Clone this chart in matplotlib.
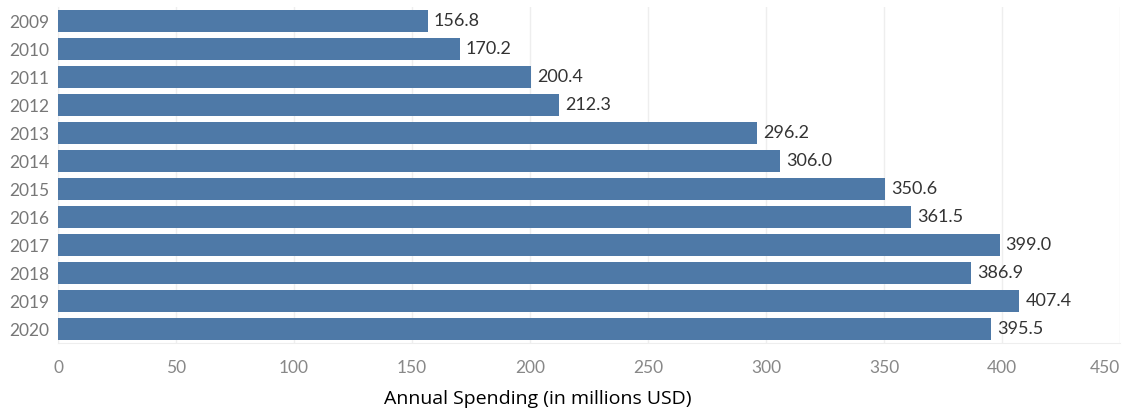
import matplotlib
matplotlib.use("Agg")
import matplotlib.pyplot as plt

years = ["2009", "2010", "2011", "2012", "2013", "2014", "2015", "2016", "2017", "2018", "2019", "2020"]
spending = [156.8, 170.2, 200.4, 212.3, 296.2, 306.0, 350.6, 361.5, 399.0, 386.9, 407.4, 395.5]
xticks = [0, 50, 100, 150, 200, 250, 300, 350, 400, 450]

plt.rcParams['font.family'] = ['Lato', 'DejaVu Sans']

fig = plt.figure(figsize=(11.27, 4.15), dpi=100)
ax = fig.add_axes([58/1127, 1 - 343/415, (1120 - 58)/1127, (343 - 7)/415])

ypos = list(range(len(years)))
ax.barh(ypos, spending, height=0.78, color="#4e79a7", zorder=3)
ax.set_ylim(len(years) - 0.5, -0.5)
ax.set_xlim(0, 450)
ax.set_yticks(ypos)
ax.set_yticklabels(years, fontsize=12.5, color="#777777")
ax.set_xticks(xticks)
ax.set_xticklabels([str(t) for t in xticks], fontsize=12.5, color="#888888")
ax.tick_params(axis='both', length=0)
ax.tick_params(axis='x', pad=12)
ax.tick_params(axis='y', pad=6)
labs = ax.get_xticklabels()
labs[-1].set_horizontalalignment('right')
labs[-1].set_x(450)

for y, v in zip(ypos, spending):
    ax.text(v + 2.5, y, f"{v:.1f}", va='center', ha='left', fontsize=13, color="#333333")

ax.grid(axis='x', color="#eeeeee", linewidth=1, zorder=0)
for s in ['top', 'right']:
    ax.spines[s].set_visible(False)
ax.spines['left'].set_color("#eeeeee")
ax.spines['bottom'].set_color("#eeeeee")

fig.text(538/1127, 1 - 399/415, "Annual Spending (in millions USD)", ha='center', va='center',
         fontsize=14, color="#000000", family=['Open Sans', 'DejaVu Sans'])

fig.savefig("out.png", dpi=100)
